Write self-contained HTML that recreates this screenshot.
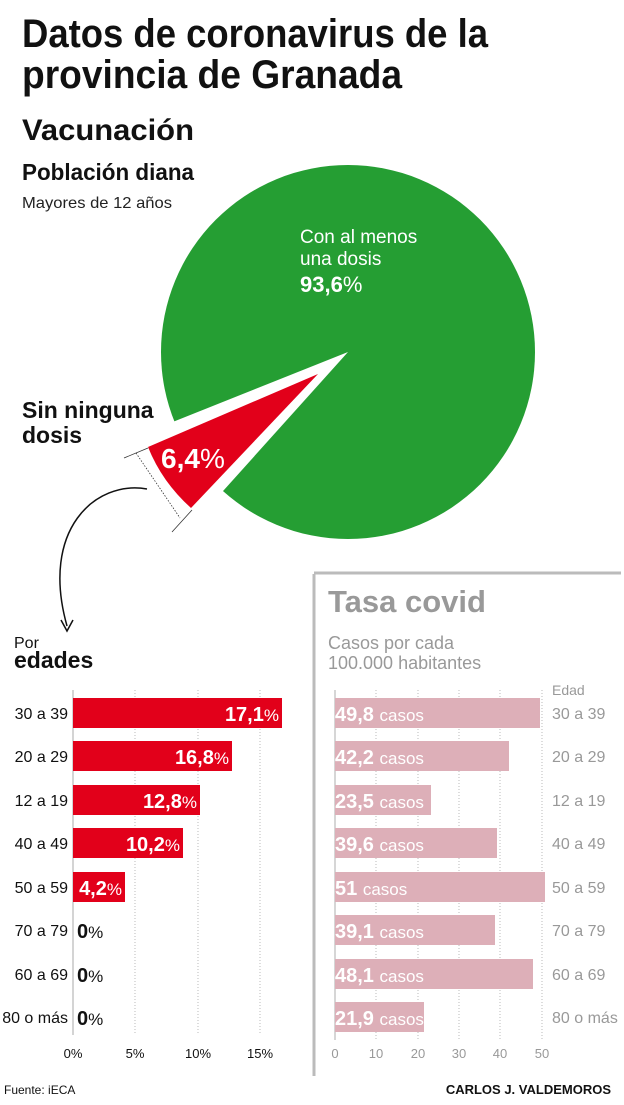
<!DOCTYPE html>
<html><head><meta charset="utf-8"><style>
html,body{margin:0;padding:0;background:#fff}
svg{display:block}
text{font-family:"Liberation Sans Narrow","Liberation Sans",sans-serif}
</style></head><body>
<svg width="624" height="1105" viewBox="0 0 624 1105" xmlns="http://www.w3.org/2000/svg">
<text x="22" y="47" font-size="40" font-weight="bold" fill="#111" textLength="466" lengthAdjust="spacingAndGlyphs">Datos de coronavirus de la</text>
<text x="22" y="88" font-size="40" font-weight="bold" fill="#111" textLength="380" lengthAdjust="spacingAndGlyphs">provincia de Granada</text>
<text x="22" y="140" font-size="30" font-weight="bold" fill="#111" textLength="172" lengthAdjust="spacingAndGlyphs">Vacunación</text>
<text x="22" y="180" font-size="23" font-weight="bold" fill="#111" textLength="172" lengthAdjust="spacingAndGlyphs">Población diana</text>
<text x="22" y="208" font-size="16" fill="#222" textLength="150" lengthAdjust="spacingAndGlyphs">Mayores de 12 años</text>
<!-- pie -->
<circle cx="348" cy="352" r="187" fill="#259e33"/>
<polygon points="348,352 120,443 161,560" fill="#fff"/>
<path d="M318,374 L148,447 Q162,482 191,508 Z" fill="#e2001a"/>
<text x="300" y="243" font-size="19" fill="#fff">Con al menos</text>
<text x="300" y="265" font-size="19" fill="#fff">una dosis</text>
<text x="300" y="292" font-size="22" font-weight="bold" fill="#fff">93,6<tspan font-weight="normal">%</tspan></text>
<text x="161" y="468" font-size="28" font-weight="bold" fill="#fff">6,4<tspan font-weight="normal">%</tspan></text>
<text x="22" y="418" font-size="23" font-weight="bold" fill="#111">Sin ninguna</text>
<text x="22" y="443" font-size="23" font-weight="bold" fill="#111">dosis</text>
<line x1="124" y1="458" x2="148" y2="448" stroke="#333" stroke-width="0.8"/>
<line x1="172" y1="532" x2="192" y2="510" stroke="#333" stroke-width="0.8"/>
<line x1="136" y1="453" x2="180" y2="518" stroke="#333" stroke-width="0.8" stroke-dasharray="1.5,1.5"/>
<path d="M147,489 C95,480 40,530 67,626" fill="none" stroke="#111" stroke-width="1.5"/>
<path d="M61,620 L67,631 L73,620" fill="none" stroke="#111" stroke-width="1.5"/>
<!-- left chart -->
<text x="14" y="648" font-size="16" fill="#111">Por</text>
<text x="14" y="668" font-size="23" font-weight="bold" fill="#111">edades</text>
<g stroke="#aaa" stroke-width="0.8" stroke-dasharray="1,2">
<line x1="135" y1="690" x2="135" y2="1035"/><line x1="198" y1="690" x2="198" y2="1035"/><line x1="260" y1="690" x2="260" y2="1035"/>
</g>
<line x1="73" y1="690" x2="73" y2="1035" stroke="#aaa" stroke-width="1"/>
<g fill="#e2001a">
<rect x="73" y="698" width="209" height="30"/><rect x="73" y="741" width="159" height="30"/>
<rect x="73" y="785" width="127" height="30"/><rect x="73" y="828" width="110" height="30"/>
<rect x="73" y="872" width="52" height="30"/>
</g>
<g font-size="16" fill="#111" text-anchor="end">
<text x="68" y="719">30 a 39</text><text x="68" y="762">20 a 29</text><text x="68" y="806">12 a 19</text><text x="68" y="849">40 a 49</text><text x="68" y="893">50 a 59</text><text x="68" y="936">70 a 79</text><text x="68" y="980">60 a 69</text><text x="68" y="1023">80 o más</text>
</g>
<g font-size="20" font-weight="bold" fill="#fff" text-anchor="end">
<text x="279" y="721">17,1<tspan font-weight="normal" font-size="17">%</tspan></text>
<text x="229" y="764">16,8<tspan font-weight="normal" font-size="17">%</tspan></text>
<text x="197" y="808">12,8<tspan font-weight="normal" font-size="17">%</tspan></text>
<text x="180" y="851">10,2<tspan font-weight="normal" font-size="17">%</tspan></text>
<text x="122" y="895">4,2<tspan font-weight="normal" font-size="17">%</tspan></text>
</g>
<g font-size="20" font-weight="bold" fill="#111">
<text x="77" y="938">0<tspan font-weight="normal" font-size="17">%</tspan></text>
<text x="77" y="982">0<tspan font-weight="normal" font-size="17">%</tspan></text>
<text x="77" y="1025">0<tspan font-weight="normal" font-size="17">%</tspan></text>
</g>
<g font-size="13" fill="#111" text-anchor="middle">
<text x="73" y="1058">0%</text><text x="135" y="1058">5%</text><text x="198" y="1058">10%</text><text x="260" y="1058">15%</text>
</g>
<!-- right chart -->
<line x1="314" y1="574" x2="314" y2="1076" stroke="#bbb" stroke-width="3"/>
<line x1="314" y1="573" x2="621" y2="573" stroke="#bbb" stroke-width="3"/>
<text x="328" y="612" font-size="31" font-weight="bold" fill="#999">Tasa covid</text>
<text x="328" y="649" font-size="18" fill="#999">Casos por cada</text>
<text x="328" y="669" font-size="18" fill="#999">100.000 habitantes</text>
<text x="552" y="695" font-size="14" fill="#999">Edad</text>
<g stroke="#aaa" stroke-width="0.8" stroke-dasharray="1,2">
<line x1="376" y1="690" x2="376" y2="1040"/><line x1="418" y1="690" x2="418" y2="1040"/><line x1="459" y1="690" x2="459" y2="1040"/><line x1="500" y1="690" x2="500" y2="1040"/><line x1="542" y1="690" x2="542" y2="1040"/>
</g>
<line x1="335" y1="690" x2="335" y2="1040" stroke="#999" stroke-width="0.8"/>
<g fill="#ddafb8">
<rect x="335" y="698" width="205" height="30"/><rect x="335" y="741" width="174" height="30"/>
<rect x="335" y="785" width="96" height="30"/><rect x="335" y="828" width="162" height="30"/>
<rect x="335" y="872" width="210" height="30"/><rect x="335" y="915" width="160" height="30"/>
<rect x="335" y="959" width="198" height="30"/><rect x="335" y="1002" width="89" height="30"/>
</g>
<g font-size="20" font-weight="bold" fill="#fff">
<text x="335" y="721">49,8 <tspan font-weight="normal" font-size="17">casos</tspan></text>
<text x="335" y="764">42,2 <tspan font-weight="normal" font-size="17">casos</tspan></text>
<text x="335" y="808">23,5 <tspan font-weight="normal" font-size="17">casos</tspan></text>
<text x="335" y="851">39,6 <tspan font-weight="normal" font-size="17">casos</tspan></text>
<text x="335" y="895">51 <tspan font-weight="normal" font-size="17">casos</tspan></text>
<text x="335" y="938">39,1 <tspan font-weight="normal" font-size="17">casos</tspan></text>
<text x="335" y="982">48,1 <tspan font-weight="normal" font-size="17">casos</tspan></text>
<text x="335" y="1025">21,9 <tspan font-weight="normal" font-size="17">casos</tspan></text>
</g>
<g font-size="16" fill="#999">
<text x="552" y="719">30 a 39</text><text x="552" y="762">20 a 29</text><text x="552" y="806">12 a 19</text><text x="552" y="849">40 a 49</text><text x="552" y="893">50 a 59</text><text x="552" y="936">70 a 79</text><text x="552" y="980">60 a 69</text><text x="552" y="1023">80 o más</text>
</g>
<g font-size="13" fill="#999" text-anchor="middle">
<text x="335" y="1058">0</text><text x="376" y="1058">10</text><text x="418" y="1058">20</text><text x="459" y="1058">30</text><text x="500" y="1058">40</text><text x="542" y="1058">50</text>
</g>
<text x="4" y="1094" font-size="12" fill="#111">Fuente: iECA</text>
<text x="611" y="1094" font-size="13" font-weight="bold" fill="#111" text-anchor="end">CARLOS J. VALDEMOROS</text>
</svg>
</body></html>
